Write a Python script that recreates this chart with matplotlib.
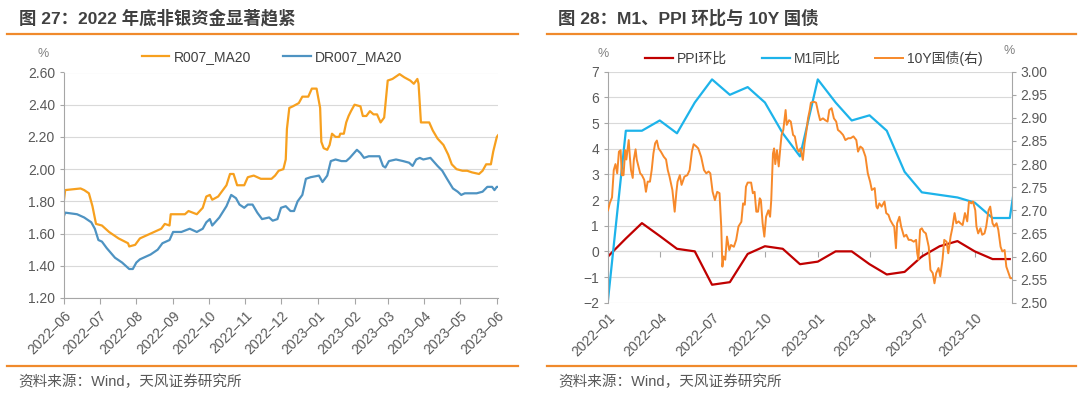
import numpy as np
import pandas as pd
import matplotlib
matplotlib.use("Agg")
import matplotlib.pyplot as plt
import matplotlib.dates as mdates
from matplotlib.lines import Line2D
from matplotlib.ticker import FormatStrFormatter, MultipleLocator

plt.rcParams['font.family'] = ['Liberation Sans', 'Noto Sans CJK SC']
plt.rcParams['axes.unicode_minus'] = True

# ---------------------- Data: left panel (R007 / DR007 MA20) ----------------------
r007_dates = [
    "2022-06-01", "2022-06-02", "2022-06-15", "2022-06-18", "2022-06-22", "2022-06-25",
    "2022-06-28", "2022-07-03", "2022-07-09", "2022-07-17", "2022-07-25", "2022-07-26",
    "2022-07-31", "2022-08-04", "2022-08-13", "2022-08-22", "2022-08-25", "2022-08-29",
    "2022-08-30", "2022-09-11", "2022-09-14", "2022-09-21", "2022-09-26", "2022-09-29",
    "2022-10-02", "2022-10-04", "2022-10-09", "2022-10-13", "2022-10-16", "2022-10-19",
    "2022-10-22", "2022-10-25", "2022-10-31", "2022-11-03", "2022-11-08", "2022-11-14",
    "2022-11-23", "2022-11-26", "2022-11-29", "2022-12-03", "2022-12-05", "2022-12-06",
    "2022-12-08", "2022-12-11", "2022-12-16", "2022-12-19", "2022-12-24", "2022-12-27",
    "2022-12-31", "2023-01-03", "2023-01-04", "2023-01-06", "2023-01-09", "2023-01-11",
    "2023-01-13", "2023-01-16", "2023-01-19", "2023-01-20", "2023-01-23", "2023-01-25",
    "2023-01-27", "2023-01-29", "2023-02-01", "2023-02-06", "2023-02-08", "2023-02-11",
    "2023-02-14", "2023-02-17", "2023-02-20", "2023-02-23", "2023-02-26", "2023-03-01",
    "2023-03-05", "2023-03-11", "2023-03-15", "2023-03-20", "2023-03-23", "2023-03-26",
    "2023-03-27", "2023-03-29", "2023-04-05", "2023-04-08", "2023-04-12", "2023-04-17",
    "2023-04-21", "2023-04-24", "2023-04-28", "2023-05-03", "2023-05-07", "2023-05-11",
    "2023-05-17", "2023-05-20", "2023-05-23", "2023-05-27", "2023-05-29", "2023-06-01",
    "2023-06-02",
]
r007_vals = [
    1.81, 1.87, 1.88, 1.87, 1.85, 1.77,
    1.66, 1.65, 1.61, 1.57, 1.54, 1.52,
    1.53, 1.57, 1.60, 1.63, 1.66, 1.65,
    1.72, 1.72, 1.74, 1.72, 1.76, 1.83,
    1.84, 1.81, 1.83, 1.87, 1.90, 1.97,
    1.97, 1.90, 1.90, 1.95, 1.96, 1.94,
    1.94, 1.96, 1.99, 2.00, 2.06, 2.25,
    2.38, 2.39, 2.41, 2.45, 2.45, 2.50,
    2.50, 2.38, 2.17, 2.13, 2.12, 2.15,
    2.22, 2.20, 2.20, 2.22, 2.22, 2.29,
    2.33, 2.36, 2.40, 2.39, 2.33, 2.33,
    2.36, 2.34, 2.34, 2.29, 2.32, 2.55,
    2.56, 2.59, 2.57, 2.55, 2.53, 2.56,
    2.53, 2.29, 2.29, 2.24, 2.19, 2.15,
    2.09, 2.03, 2.00, 1.99, 1.99, 1.98,
    1.97, 1.99, 2.03, 2.03, 2.11, 2.20,
    2.21,
]

dr007_dates = [
    "2022-06-01", "2022-06-02", "2022-06-12", "2022-06-18", "2022-06-24", "2022-06-27",
    "2022-06-30", "2022-07-03", "2022-07-07", "2022-07-14", "2022-07-20", "2022-07-26",
    "2022-07-29", "2022-08-01", "2022-08-04", "2022-08-13", "2022-08-19", "2022-08-23",
    "2022-08-29", "2022-09-01", "2022-09-08", "2022-09-15", "2022-09-21", "2022-09-26",
    "2022-09-29", "2022-10-02", "2022-10-04", "2022-10-10", "2022-10-16", "2022-10-20",
    "2022-10-24", "2022-10-27", "2022-10-31", "2022-11-03", "2022-11-07", "2022-11-11",
    "2022-11-15", "2022-11-21", "2022-11-24", "2022-11-28", "2022-12-01", "2022-12-05",
    "2022-12-09", "2022-12-12", "2022-12-15", "2022-12-19", "2022-12-22", "2022-12-26",
    "2023-01-02", "2023-01-05", "2023-01-09", "2023-01-12", "2023-01-16", "2023-01-21",
    "2023-01-25", "2023-01-28", "2023-02-03", "2023-02-06", "2023-02-09", "2023-02-13",
    "2023-02-17", "2023-02-22", "2023-02-25", "2023-02-27", "2023-03-02", "2023-03-08",
    "2023-03-14", "2023-03-19", "2023-03-22", "2023-03-25", "2023-03-28", "2023-03-31",
    "2023-04-06", "2023-04-12", "2023-04-16", "2023-04-20", "2023-04-25", "2023-04-29",
    "2023-05-02", "2023-05-05", "2023-05-09", "2023-05-15", "2023-05-20", "2023-05-24",
    "2023-05-28", "2023-05-30", "2023-06-01", "2023-06-02",
]
dr007_vals = [
    1.71, 1.73, 1.72, 1.70, 1.67, 1.63,
    1.56, 1.55, 1.51, 1.45, 1.42, 1.38,
    1.38, 1.42, 1.44, 1.47, 1.50, 1.54,
    1.56, 1.61, 1.61, 1.63, 1.61, 1.63,
    1.67, 1.69, 1.65, 1.70, 1.77, 1.84,
    1.82, 1.78, 1.76, 1.78, 1.78, 1.73,
    1.69, 1.70, 1.68, 1.69, 1.76, 1.77,
    1.74, 1.74, 1.80, 1.84, 1.94, 1.95,
    1.96, 1.92, 1.96, 2.05, 2.06, 2.05,
    2.05, 2.07, 2.12, 2.10, 2.07, 2.08,
    2.08, 2.08, 2.02, 2.01, 2.05, 2.06,
    2.05, 2.04, 2.02, 2.06, 2.07, 2.06,
    2.07, 2.02, 1.99, 1.94, 1.88, 1.86,
    1.84, 1.85, 1.85, 1.85, 1.86, 1.89,
    1.89, 1.87, 1.89, 1.89,
]

# ---------------------- Data: right panel (PPI mom / M1 yoy / 10Y) ----------------------
macro_months = pd.date_range("2022-01-01", "2024-01-01", freq="MS")
ppi_mom = [-0.2, 0.5, 1.1, 0.6, 0.1, 0.0, -1.3, -1.2, -0.1, 0.2, 0.1, -0.5,
           -0.4, 0.0, 0.0, -0.5, -0.9, -0.8, -0.2, 0.2, 0.4, 0.0, -0.3, -0.3]
m1_yoy = [-1.9, 4.7, 4.7, 5.1, 4.6, 5.8, 6.7, 6.1, 6.4, 5.8, 4.6, 3.7,
          6.7, 5.8, 5.1, 5.3, 4.7, 3.1, 2.3, 2.2, 2.1, 1.9, 1.3, 1.3, 5.9]

bond_dates = [
    "2022-01-01", "2022-01-04", "2022-01-08", "2022-01-11", "2022-01-14", "2022-01-17",
    "2022-01-20", "2022-01-23", "2022-01-25", "2022-01-28", "2022-01-31", "2022-02-02",
    "2022-02-06", "2022-02-08", "2022-02-10", "2022-02-13", "2022-02-15", "2022-02-18",
    "2022-02-20", "2022-02-24", "2022-02-26", "2022-03-01", "2022-03-05", "2022-03-08",
    "2022-03-11", "2022-03-15", "2022-03-18", "2022-03-21", "2022-03-24", "2022-03-27",
    "2022-03-30", "2022-04-03", "2022-04-08", "2022-04-12", "2022-04-15", "2022-04-18",
    "2022-04-23", "2022-04-27", "2022-04-30", "2022-05-02", "2022-05-06", "2022-05-09",
    "2022-05-14", "2022-05-19", "2022-05-23", "2022-05-27", "2022-05-30", "2022-06-03",
    "2022-06-07", "2022-06-12", "2022-06-17", "2022-06-21", "2022-06-25", "2022-06-28",
    "2022-07-02", "2022-07-06", "2022-07-10", "2022-07-14", "2022-07-17", "2022-07-19",
    "2022-07-21", "2022-07-24", "2022-07-27", "2022-07-31", "2022-08-03", "2022-08-08",
    "2022-08-12", "2022-08-16", "2022-08-21", "2022-08-24", "2022-08-27", "2022-08-29",
    "2022-09-01", "2022-09-07", "2022-09-10", "2022-09-13", "2022-09-16", "2022-09-19",
    "2022-09-22", "2022-09-24", "2022-09-27", "2022-09-30", "2022-10-03", "2022-10-07",
    "2022-10-10", "2022-10-12", "2022-10-15", "2022-10-17", "2022-10-19", "2022-10-22",
    "2022-10-25", "2022-10-28", "2022-10-30", "2022-11-02", "2022-11-06", "2022-11-08",
    "2022-11-12", "2022-11-15", "2022-11-19", "2022-11-22", "2022-11-26", "2022-11-29",
    "2022-12-02", "2022-12-06", "2022-12-09", "2022-12-12", "2022-12-15", "2022-12-18",
    "2022-12-20", "2022-12-25", "2022-12-29", "2023-01-02", "2023-01-05", "2023-01-10",
    "2023-01-14", "2023-01-18", "2023-01-21", "2023-01-25", "2023-01-29", "2023-02-02",
    "2023-02-05", "2023-02-09", "2023-02-14", "2023-02-18", "2023-02-23", "2023-02-27",
    "2023-03-04", "2023-03-09", "2023-03-12", "2023-03-16", "2023-03-20", "2023-03-25",
    "2023-03-29", "2023-04-02", "2023-04-05", "2023-04-10", "2023-04-13", "2023-04-15",
    "2023-04-18", "2023-04-22", "2023-04-27", "2023-04-30", "2023-05-04", "2023-05-07",
    "2023-05-12", "2023-05-14", "2023-05-17", "2023-05-19", "2023-05-23", "2023-05-26",
    "2023-05-31", "2023-06-04", "2023-06-08", "2023-06-12", "2023-06-17", "2023-06-21",
    "2023-06-23", "2023-06-25", "2023-06-28", "2023-07-01", "2023-07-04", "2023-07-08",
    "2023-07-13", "2023-07-16", "2023-07-20", "2023-07-23", "2023-07-26", "2023-07-30",
    "2023-08-02", "2023-08-06", "2023-08-09", "2023-08-13", "2023-08-16", "2023-08-20",
    "2023-08-23", "2023-08-27", "2023-08-30", "2023-09-03", "2023-09-06", "2023-09-10",
    "2023-09-14", "2023-09-18", "2023-09-21", "2023-09-25", "2023-09-28", "2023-10-02",
    "2023-10-04", "2023-10-07", "2023-10-11", "2023-10-14", "2023-10-18", "2023-10-21",
    "2023-10-25", "2023-10-28", "2023-11-01", "2023-11-04", "2023-11-08", "2023-11-11",
    "2023-11-15", "2023-11-18", "2023-11-22", "2023-11-25", "2023-11-29", "2023-12-02",
    "2023-12-04",
]
bond_10y = [
    2.700, 2.715, 2.728, 2.787, 2.800, 2.780,
    2.827, 2.830, 2.776, 2.776, 2.830, 2.810,
    2.852, 2.816, 2.787, 2.770, 2.810, 2.832,
    2.810, 2.790, 2.780, 2.776, 2.766, 2.740,
    2.762, 2.762, 2.787, 2.823, 2.845, 2.851,
    2.834, 2.827, 2.816, 2.810, 2.787, 2.773,
    2.744, 2.697, 2.740, 2.762, 2.776, 2.755,
    2.773, 2.776, 2.787, 2.827, 2.843, 2.839,
    2.834, 2.816, 2.787, 2.780, 2.784, 2.780,
    2.740, 2.722, 2.740, 2.737, 2.665, 2.578,
    2.600, 2.593, 2.643, 2.614, 2.625, 2.621,
    2.636, 2.665, 2.675, 2.715, 2.712, 2.751,
    2.760, 2.760, 2.737, 2.740, 2.697, 2.697,
    2.726, 2.722, 2.672, 2.643, 2.686, 2.700,
    2.686, 2.722, 2.823, 2.834, 2.800, 2.830,
    2.795, 2.838, 2.863, 2.874, 2.917, 2.885,
    2.895, 2.892, 2.863, 2.860, 2.834, 2.827,
    2.834, 2.809, 2.845, 2.870, 2.899, 2.917,
    2.933, 2.935, 2.933, 2.910, 2.895, 2.899,
    2.895, 2.892, 2.917, 2.921, 2.899, 2.892,
    2.874, 2.870, 2.863, 2.852, 2.856, 2.856,
    2.860, 2.852, 2.827, 2.838, 2.834, 2.816,
    2.780, 2.762, 2.744, 2.748, 2.708, 2.704,
    2.715, 2.708, 2.719, 2.694, 2.690, 2.679,
    2.668, 2.665, 2.618, 2.672, 2.686, 2.665,
    2.643, 2.647, 2.636, 2.636, 2.632, 2.636,
    2.607, 2.593, 2.658, 2.661, 2.654, 2.650,
    2.621, 2.571, 2.564, 2.542, 2.564, 2.575,
    2.557, 2.593, 2.636, 2.632, 2.607, 2.643,
    2.661, 2.694, 2.672, 2.676, 2.672, 2.668,
    2.694, 2.676, 2.719, 2.715, 2.719, 2.700,
    2.665, 2.650, 2.661, 2.647, 2.650, 2.665,
    2.700, 2.708, 2.672, 2.665, 2.672, 2.658,
    2.621, 2.611, 2.614, 2.578, 2.564, 2.553,
    2.553,
]

# ---------------------- Style ----------------------
GRID = "#D9D9D9"
SPINE = "#A6A6A6"
TICKTXT = "#595959"
TITLE = "#404040"
ACCENT = "#F08A2C"

W, H = 1080, 395
fig = plt.figure(figsize=(W / 100, H / 100), dpi=100)


def fx(px):
    return px / W


def fy(py):
    return 1 - py / H


def _style(ax):
    for s in ("top", "right"):
        ax.spines[s].set_visible(False)
    ax.spines["left"].set_color(SPINE)
    ax.spines["bottom"].set_color(SPINE)
    ax.grid(axis="y", color=GRID, lw=0.8)
    ax.set_axisbelow(True)
    ax.tick_params(colors=SPINE, labelcolor=TICKTXT, labelsize=10, length=3)


# ---------------------- Left panel ----------------------
ax1 = fig.add_axes([fx(64), fy(298), fx(434), (298 - 72.5) / H])
ax1.plot(pd.to_datetime(r007_dates), r007_vals, color="#F7A01E", lw=1.6, label="R007_MA20")
ax1.plot(pd.to_datetime(dr007_dates), dr007_vals, color="#4E93C2", lw=1.6, label="DR007_MA20")
ax1.set_ylim(1.2, 2.6)
ax1.yaxis.set_major_locator(MultipleLocator(0.2))
ax1.yaxis.set_major_formatter(FormatStrFormatter("%.2f"))
ax1.set_xlim(pd.Timestamp("2022-06-01"), pd.Timestamp("2023-06-02"))
ax1.xaxis.set_major_locator(mdates.MonthLocator())
ax1.xaxis.set_major_formatter(mdates.DateFormatter("%Y–%m"))
_style(ax1)
ax1.tick_params(axis="x", length=4)
for lab in ax1.get_xticklabels():
    lab.set_rotation(45)
    lab.set_ha("right")
    lab.set_va("top")
    lab.set_rotation_mode("anchor")

fig.legend(*ax1.get_legend_handles_labels(), loc="center", ncol=2,
           bbox_to_anchor=(fx(272), fy(57)), frameon=False, fontsize=10,
           handlelength=2.0, handletextpad=0.3, columnspacing=2.3,
           labelcolor=TITLE)

# ---------------------- Right panel ----------------------
ax2 = fig.add_axes([fx(608), fy(302.7), fx(403.5), 231 / H])
ax2.plot(macro_months[:len(ppi_mom)], ppi_mom, color="#C00000", lw=1.6, label="PPI环比")
ax2.plot(macro_months[:len(m1_yoy)], m1_yoy, color="#1DB3EA", lw=1.6, label="M1同比")
ax2.set_ylim(-2, 7)
ax2.yaxis.set_major_locator(MultipleLocator(1))
ax2.set_xlim(pd.Timestamp("2022-01-01"), pd.Timestamp("2023-12-04"))
ax2.xaxis.set_major_locator(mdates.MonthLocator(bymonth=[1, 4, 7, 10]))
ax2.xaxis.set_major_formatter(mdates.DateFormatter("%Y–%m"))
_style(ax2)
ax2.spines["bottom"].set_visible(False)
ax2.tick_params(axis="x", length=0, pad=6)
for lab in ax2.get_xticklabels():
    lab.set_rotation(45)
    lab.set_ha("right")
    lab.set_va("top")
    lab.set_rotation_mode("anchor")

# category axis crosses at 0
sec = ax2.secondary_xaxis(2 / 9)
sec.xaxis.set_major_locator(mdates.MonthLocator(bymonth=[1, 4, 7, 10]))
sec.tick_params(axis="x", length=4, colors=SPINE, labelbottom=False, labeltop=False)
sec.spines["bottom"].set_color(SPINE)

ax2r = ax2.twinx()
ax2r.plot(pd.to_datetime(bond_dates), bond_10y, color="#F7892A", lw=1.4, label="10Y国债(右)")
ax2r.set_ylim(2.5, 3.0)
ax2r.yaxis.set_major_locator(MultipleLocator(0.05))
ax2r.yaxis.set_major_formatter(FormatStrFormatter("%.2f"))
for s in ("top", "left", "bottom"):
    ax2r.spines[s].set_visible(False)
ax2r.spines["right"].set_color(SPINE)
ax2r.tick_params(colors=SPINE, labelcolor=TICKTXT, labelsize=10, length=3)

h1, l1 = ax2.get_legend_handles_labels()
h2, l2 = ax2r.get_legend_handles_labels()
fig.legend(h1 + h2, l1 + l2, loc="center", ncol=3,
           bbox_to_anchor=(fx(814), fy(58)), frameon=False, fontsize=10,
           handlelength=2.0, handletextpad=0.3, columnspacing=2.5,
           labelcolor=TITLE)

# ---------------------- Titles, units, sources ----------------------
fig.text(fx(19), fy(18), "图 27：2022 年底非银资金显著趋紧", fontsize=12.5,
         fontweight="bold", color=TITLE, va="center")
fig.text(fx(558), fy(18), "图 28：M1、PPI 环比与 10Y 国债", fontsize=12.5,
         fontweight="bold", color=TITLE, va="center")
fig.text(fx(43), fy(54), "%", fontsize=9, color="#808080", ha="center", va="center")
fig.text(fx(603), fy(54), "%", fontsize=9, color="#808080", ha="center", va="center")
fig.text(fx(1009), fy(51), "%", fontsize=9, color="#808080", ha="center", va="center")

for x0, x1 in ((7, 518), (547, 1076)):
    fig.add_artist(Line2D([fx(x0), fx(x1)], [fy(34), fy(34)], color=ACCENT, lw=1.6))
    fig.add_artist(Line2D([fx(x0), fx(x1)], [fy(366), fy(366)], color=ACCENT, lw=1.6))

fig.text(fx(18), fy(382), "资料来源：Wind，天风证券研究所", fontsize=10.5, color=TICKTXT, va="center")
fig.text(fx(558), fy(382), "资料来源：Wind，天风证券研究所", fontsize=10.5, color=TICKTXT, va="center")

fig.savefig("out.png", dpi=100, facecolor="white")
